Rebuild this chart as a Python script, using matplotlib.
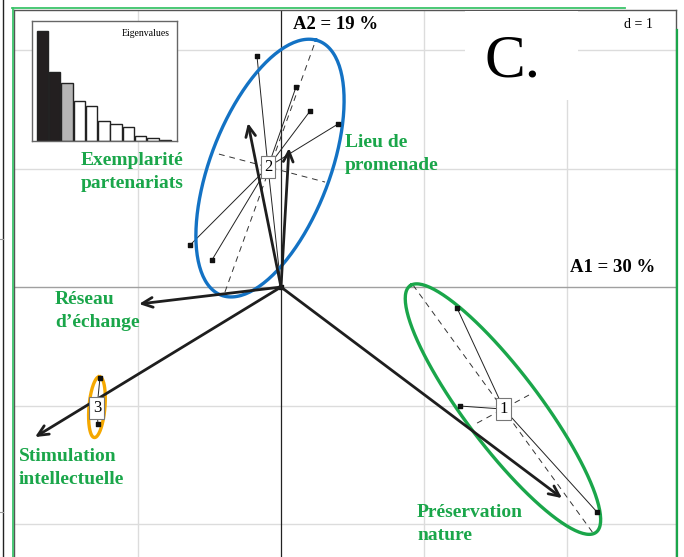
import numpy as np
import matplotlib
matplotlib.use("Agg")
import matplotlib.pyplot as plt
from matplotlib.lines import Line2D
from matplotlib.patches import Rectangle

plt.rcParams['font.family'] = ['Liberation Serif', 'DejaVu Serif']

# eigenvalues (% of inertia) for the inset
eig_vals = [30.0, 18.9, 15.9, 10.9, 9.5, 5.4, 4.6, 3.7, 1.4, 0.7, 0.2]
eig_cols = ['#231f20', '#231f20', '#b5b5b5'] + ['white'] * 8

# variable arrows (end points), start at origin
var_names = ['Exemplarité\npartenariats', 'Lieu de\npromenade', 'Réseau\nd\u2019échange',
             'Stimulation\nintellectuelle', 'Préservation\nnature']
var_x = [-0.231, 0.056, -0.993, -1.720, 1.965]
var_y = [1.384, 1.173, -0.143, -1.266, -1.781]
lab_x = [-1.40, 0.448, -1.580, -1.832, 0.951]
lab_y = [0.970, 1.122, -0.203, -1.527, -1.996]

# groups (class centres, member sites)
grp_names = ['1', '2', '3']
grp_cx = [1.559, -0.091, -1.287]
grp_cy = [-1.030, 1.013, -1.021]
grp1_x = [1.231, 1.252, 2.210]
grp1_y = [-0.177, -1.004, -1.899]
grp2_x = [-0.168, 0.105, 0.203, 0.399, -0.636, -0.483, 0.0]
grp2_y = [1.949, 1.688, 1.485, 1.376, 0.354, 0.228, 0.0]
grp3_x = [-1.266, -1.280]
grp3_y = [-0.768, -1.156]

# dashed ellipse axes (x0, y0, x1, y1)
axes_dash = [
    (0.923, 0.017, 2.182, -2.076),
    (1.371, -1.148, 1.734, -0.911),
    (0.231, 2.042, -0.392, -0.042),
    (-0.434, 1.122, 0.308, 0.886),
]

# coloured ellipses: centre, half axis A, half axis B
ell_cols = ['#1aa64a', '#1372c4', '#f5a800']
ell_c = [(1.552, -1.030), (-0.077, 1.004), (-1.287, -1.013)]
ell_a = [(-0.643, 1.046), (0.322, 1.080), (0.017, 0.257)]
ell_b = [(0.231, 0.152), (0.406, -0.127), (0.056, 0.0)]

green = '#1aa64a'

fig = plt.figure(figsize=(6.84, 5.57), dpi=100)
ax = fig.add_axes([14/684, 0, 662/684, 547/557])
ax.set_xlim(-1.867, 2.762)
ax.set_ylim(-2.278, 2.338)
ax.set_xticks([])
ax.set_yticks([])
for s in ['top', 'left', 'right']:
    ax.spines[s].set_color('#555555')
    ax.spines[s].set_linewidth(1.0)
ax.spines['bottom'].set_visible(False)

# grid
for g in [-1, 1, 2]:
    ax.axvline(g, color='#dcdcdc', lw=1.0, zorder=0)
for g in [-2, -1, 1, 2]:
    ax.axhline(g, color='#dcdcdc', lw=1.0, zorder=0)
ax.axhline(0, color='#a0a0a0', lw=1.0, zorder=1)
ax.axvline(0, color='#222222', lw=0.9, zorder=1)

# ellipses
t = np.linspace(0, 2*np.pi, 200)
for c, a, b, col in zip(ell_c, ell_a, ell_b, ell_cols):
    ex = c[0] + np.cos(t)*a[0] + np.sin(t)*b[0]
    ey = c[1] + np.cos(t)*a[1] + np.sin(t)*b[1]
    ax.plot(ex, ey, color=col, lw=2.4, zorder=3)

for x0, y0, x1, y1 in axes_dash:
    ax.plot([x0, x1], [y0, y1], color='#333333', lw=0.7, ls=(0, (6, 5)), zorder=2)

# star lines to group centres
for cx, cy, gx, gy in zip(grp_cx, grp_cy, [grp1_x, grp2_x, grp3_x], [grp1_y, grp2_y, grp3_y]):
    for px, py in zip(gx, gy):
        ax.plot([cx, px], [cy, py], color='#222222', lw=0.7, zorder=2)
    ax.scatter(gx, gy, s=11, color='#111111', marker='s', zorder=4)

# arrows
for x, y in zip(var_x, var_y):
    ax.annotate('', xy=(x, y), xytext=(0, 0),
                arrowprops=dict(arrowstyle='->,head_length=0.75,head_width=0.35',
                                color='#1e1e1e', lw=2.0, shrinkA=0, shrinkB=0), zorder=5)

# group labels
for nm, cx, cy in zip(grp_names, grp_cx, grp_cy):
    ax.text(cx, cy, nm, ha='center', va='center', fontsize=12, zorder=6,
            bbox=dict(boxstyle='square,pad=0.2', fc='white', ec='#777777', lw=0.8))

# variable labels
for nm, x, y in zip(var_names, lab_x, lab_y):
    ax.text(x, y, nm, ha='left', va='center', fontsize=14, fontweight='bold',
            color=green, linespacing=1.45, zorder=6)

ax.text(0.084, 2.219, 'A2 = 19 %', ha='left', va='center', fontsize=13.5, fontweight='bold', zorder=6)
ax.text(2.021, 0.169, 'A1 = 30 %', ha='left', va='center', fontsize=13.5, fontweight='bold', zorder=6)
ax.text(2.601, 2.219, 'd = 1', ha='right', va='center', fontsize=10, zorder=6)
ax.add_patch(Rectangle((1.287, 1.578), 0.79, 0.75, fc='white', ec='none', zorder=5))
ax.text(1.62, 1.90, 'C.', ha='center', va='center', fontsize=44, zorder=6)

# eigenvalue inset
ins = fig.add_axes([32/684, 1 - 141/557, 145/684, 120/557])
ins.bar(np.arange(len(eig_vals)), eig_vals, width=0.93, color=eig_cols,
        edgecolor='#222222', linewidth=1.0)
ins.set_xlim(-0.85, 10.95)
ins.set_ylim(0, 32.7)
ins.set_xticks([])
ins.set_yticks([])
for s in ins.spines.values():
    s.set_color('#666666')
    s.set_linewidth(1.0)
ins.text(0.95, 0.93, 'Eigenvalues', transform=ins.transAxes, ha='right', va='top', fontsize=7)

# outer frame bits
W, H = 684, 557
def fline(xs, ys, **kw):
    fig.add_artist(Line2D([x/W for x in xs], [1 - y/H for y in ys],
                          transform=fig.transFigure, **kw))

fline([12.5, 12.5], [8, 557], color='#3cc46a', lw=1.3)
fline([12, 625], [8, 8], color='#3cc46a', lw=1.3)
fline([677, 677], [30, 557], color='#1aa64a', lw=1.6)
fline([2.5, 2.5], [0, 557], color='#222222', lw=1.0)
fline([0, 2.5], [239, 239], color='#999999', lw=0.8)
fline([0, 2.5], [512, 512], color='#999999', lw=0.8)

fig.savefig('out.png', dpi=100)
